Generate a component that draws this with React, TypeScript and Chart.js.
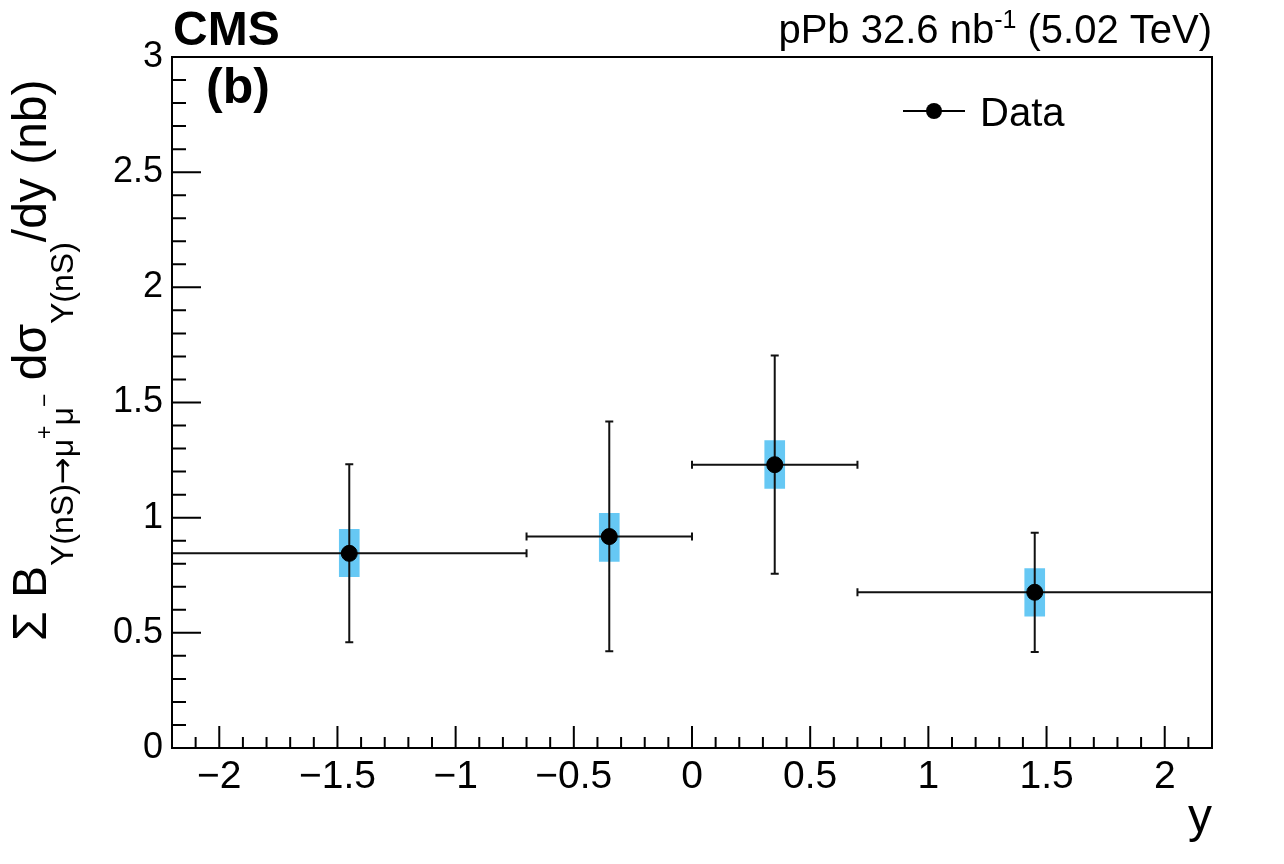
import React, { useEffect, useRef } from "react";
import { Chart, registerables } from "chart.js";

Chart.register(...registerables);

// rapidity bins and measured cross sections (nb)
const binCenters = [-1.45, -0.35, 0.35, 1.45];
const binLow = [-2.2, -0.7, 0, 0.7];
const binHigh = [-0.7, 0, 0.7, 2.2];
const xsec = [0.845, 0.918, 1.23, 0.676];
const statLow = [0.459, 0.42, 0.757, 0.417];
const statHigh = [1.232, 1.417, 1.704, 0.935];
const systLow = [0.744, 0.81, 1.127, 0.572];
const systHigh = [0.949, 1.019, 1.335, 0.779];

const xTicks = [-2, -1.5, -1, -0.5, 0, 0.5, 1, 1.5, 2];
const yTicks = [0, 0.5, 1, 1.5, 2, 2.5, 3];

const FONT = '"Liberation Sans", Arial, Helvetica, sans-serif';
const ARROW_FONT = '"DejaVu Sans", sans-serif';
const BOX_COLOR = "#66c8f4";

type Seg = { text: string; size: number; dy?: number; bold?: boolean; family?: string };

const segFont = (s: Seg) => `${s.bold ? "bold " : ""}${s.size}px ${s.family || FONT}`;

function richWidth(ctx: CanvasRenderingContext2D, segs: Seg[]) {
  let w = 0;
  segs.forEach((s) => {
    ctx.font = segFont(s);
    w += ctx.measureText(s.text).width;
  });
  return w;
}

function drawRich(ctx: CanvasRenderingContext2D, segs: Seg[], x: number, y: number) {
  let cx = x;
  segs.forEach((s) => {
    ctx.font = segFont(s);
    ctx.fillText(s.text, cx, y + (s.dy || 0));
    cx += ctx.measureText(s.text).width;
  });
}

const fmt = (v: number) => (v < 0 ? "\u2212" + String(-v) : String(v));

const yTitle: Seg[] = [
  { text: "\u03a3 B", size: 48 },
  { text: "\u03a5(nS)", size: 32, dy: 27 },
  { text: "\u2192", size: 32, dy: 27, family: ARROW_FONT },
  { text: "\u03bc", size: 32, dy: 27 },
  { text: "+", size: 23, dy: 6 },
  { text: "\u03bc", size: 32, dy: 27 },
  { text: "\u2212", size: 23, dy: 6 },
  { text: " d\u03c3", size: 48 },
  { text: "\u03a5(nS)", size: 32, dy: 27 },
  { text: "/dy (nb)", size: 48 },
];

const lumiText: Seg[] = [
  { text: "pPb 32.6 nb", size: 40 },
  { text: "-1", size: 25, dy: -15 },
  { text: " (5.02 TeV)", size: 40 },
];

const rootStyle = {
  id: "rootStyle",
  afterDatasetDraw(chart: any, args: any) {
    if (args.index !== 0) return;
    const { ctx } = chart;
    const { x, y } = chart.scales;
    ctx.save();
    ctx.strokeStyle = "#111";
    ctx.lineWidth = 2;
    ctx.beginPath();
    binCenters.forEach((c: number, i: number) => {
      const px = x.getPixelForValue(c);
      const py = y.getPixelForValue(xsec[i]);
      const l = x.getPixelForValue(binLow[i]);
      const r = x.getPixelForValue(binHigh[i]);
      const t = y.getPixelForValue(statHigh[i]);
      const b = y.getPixelForValue(statLow[i]);
      ctx.moveTo(l, py);
      ctx.lineTo(r, py);
      ctx.moveTo(px, t);
      ctx.lineTo(px, b);
      ctx.moveTo(l, py - 4);
      ctx.lineTo(l, py + 4);
      ctx.moveTo(r, py - 4);
      ctx.lineTo(r, py + 4);
      ctx.moveTo(px - 4, t);
      ctx.lineTo(px + 4, t);
      ctx.moveTo(px - 4, b);
      ctx.lineTo(px + 4, b);
    });
    ctx.stroke();
    ctx.restore();
  },
  afterDraw(chart: any) {
    const { ctx, chartArea: a } = chart;
    const { x, y } = chart.scales;
    ctx.save();
    ctx.strokeStyle = "#000";
    ctx.lineWidth = 2;
    ctx.strokeRect(a.left, a.top, a.right - a.left, a.bottom - a.top);

    // inward ticks, ROOT style
    ctx.beginPath();
    for (let k = -21; k <= 21; k++) {
      const px = x.getPixelForValue(k / 10);
      const len = k % 5 === 0 ? 22 : 11;
      ctx.moveTo(px, a.bottom);
      ctx.lineTo(px, a.bottom - len);
    }
    for (let k = 1; k < 30; k++) {
      const py = y.getPixelForValue(k / 10);
      const len = k % 5 === 0 ? 29 : 14;
      ctx.moveTo(a.left, py);
      ctx.lineTo(a.left + len, py);
    }
    ctx.stroke();

    ctx.fillStyle = "#000";
    ctx.textBaseline = "alphabetic";

    // CMS and panel label
    ctx.font = `bold 48px ${FONT}`;
    ctx.textAlign = "left";
    ctx.fillText("CMS", 173, 45);
    ctx.font = `bold 50px ${FONT}`;
    ctx.fillText("(b)", 206, 103);

    // luminosity label
    const lw = richWidth(ctx, lumiText);
    drawRich(ctx, lumiText, a.right - lw, 43);

    // x-axis title
    ctx.font = `48px ${FONT}`;
    ctx.textAlign = "right";
    ctx.fillText("y", a.right, 832);
    ctx.textAlign = "left";

    // y-axis title
    ctx.save();
    ctx.translate(46, 641);
    ctx.rotate(-Math.PI / 2);
    drawRich(ctx, yTitle, 0, 0);
    ctx.restore();

    // legend
    const ly = 111;
    ctx.beginPath();
    ctx.moveTo(903, ly);
    ctx.lineTo(965, ly);
    ctx.stroke();
    ctx.beginPath();
    ctx.arc(934, ly, 8, 0, Math.PI * 2);
    ctx.fill();
    ctx.font = `40px ${FONT}`;
    ctx.fillText(chart.data.datasets[1].label, 980, 126);

    ctx.restore();
  },
};

export default function App() {
  const canvasRef = useRef<HTMLCanvasElement | null>(null);

  useEffect(() => {
    document.body.style.margin = "0";
    if (!canvasRef.current) return;
    const ctx = canvasRef.current.getContext("2d");
    if (!ctx) return;

    const chart = new Chart(ctx, {
      type: "scatter",
      data: {
        datasets: [
          {
            type: "bar",
            label: "Syst.",
            data: binCenters.map((c, i) => ({ x: c, y: [systLow[i], systHigh[i]] })) as any,
            backgroundColor: BOX_COLOR,
            borderWidth: 0,
            barThickness: 20,
            order: 2,
          } as any,
          {
            type: "scatter",
            label: "Data",
            data: binCenters.map((c, i) => ({ x: c, y: xsec[i] })),
            backgroundColor: "#000",
            borderColor: "#000",
            pointRadius: 8,
            pointHoverRadius: 8,
            order: 1,
          },
        ],
      },
      options: {
        responsive: false,
        animation: false,
        devicePixelRatio: 1,
        layout: { padding: { top: 57, right: 72, left: 0, bottom: 0 } },
        plugins: {
          legend: { display: false },
          tooltip: { enabled: false },
        },
        scales: {
          x: {
            type: "linear",
            min: -2.2,
            max: 2.2,
            offset: false,
            afterBuildTicks: (s: any) => {
              s.ticks = xTicks.map((v) => ({ value: v }));
            },
            afterFit: (s: any) => {
              s.height = 116;
            },
            grid: { display: false, drawTicks: false, offset: false },
            border: { display: false },
            ticks: {
              autoSkip: false,
              maxRotation: 0,
              padding: 6,
              color: "#000",
              font: { family: FONT, size: 39 },
              callback: (v: any) => fmt(Number(v)),
            },
          },
          y: {
            type: "linear",
            min: 0,
            max: 3,
            afterBuildTicks: (s: any) => {
              s.ticks = yTicks.map((v) => ({ value: v }));
            },
            afterFit: (s: any) => {
              s.width = 172;
            },
            grid: { display: false, drawTicks: false },
            border: { display: false },
            ticks: {
              autoSkip: false,
              padding: 9,
              color: "#000",
              font: { family: FONT, size: 36 },
              callback: (v: any) => fmt(Number(v)),
            },
          },
        },
      },
      plugins: [rootStyle],
    });

    return () => {
      chart.destroy();
    };
  }, []);

  return (
    <div style={{ width: 1284, height: 864, background: "#fff" }}>
      <canvas ref={canvasRef} width={1284} height={864} style={{ display: "block" }} />
    </div>
  );
}
